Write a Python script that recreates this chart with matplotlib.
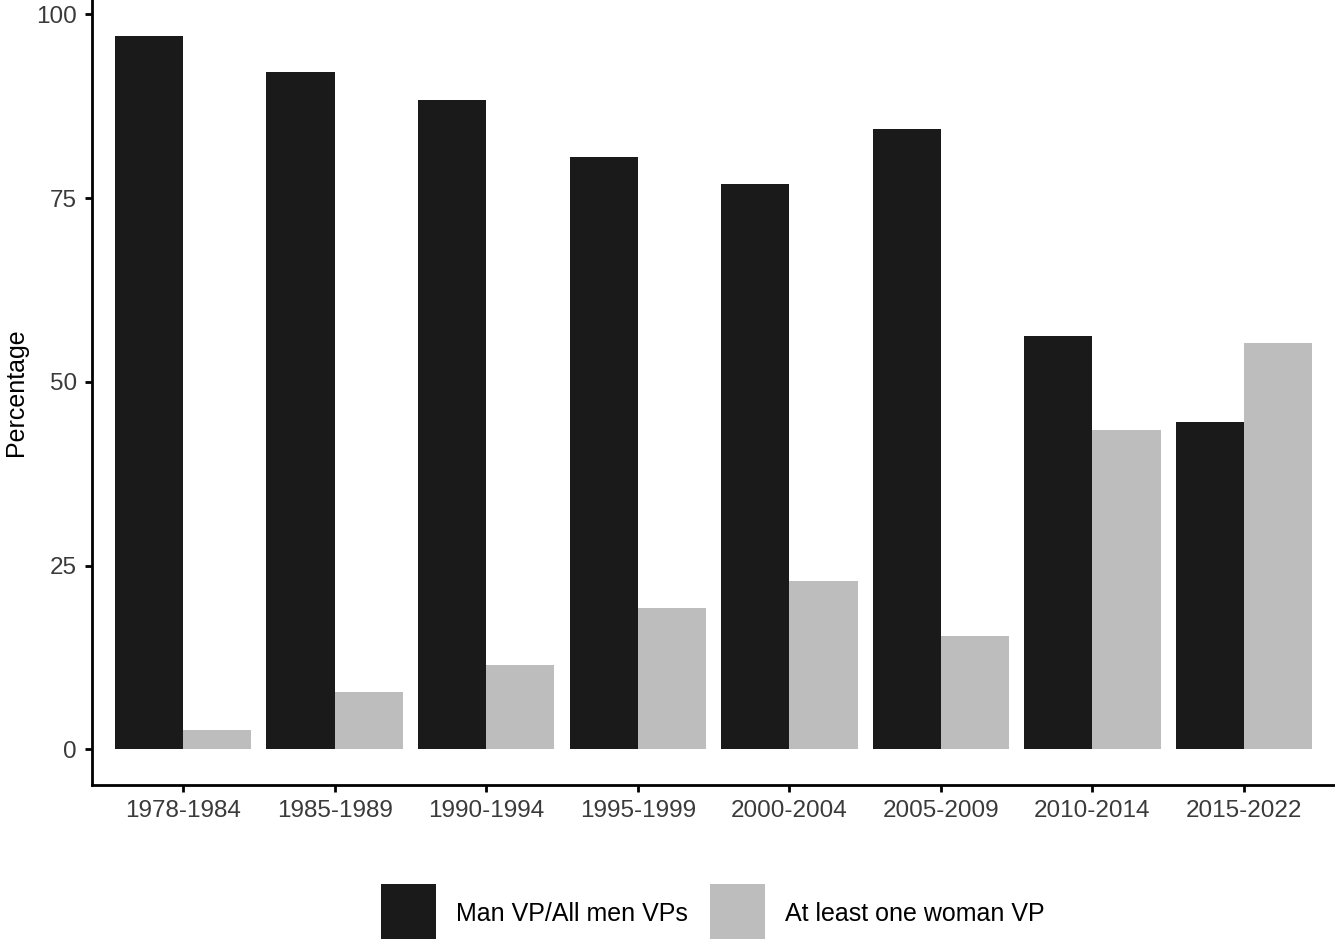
import numpy as np
import matplotlib
matplotlib.use("Agg")
import matplotlib.pyplot as plt
from matplotlib.patches import Patch

plt.rcParams['font.family'] = ['Liberation Sans', 'DejaVu Sans']

# data
periods = ["1978-1984", "1985-1989", "1990-1994", "1995-1999",
           "2000-2004", "2005-2009", "2010-2014", "2015-2022"]
men_vp = [97.1, 92.1, 88.4, 80.6, 76.9, 84.4, 56.3, 44.6]
woman_vp = [2.6, 7.8, 11.5, 19.2, 22.9, 15.4, 43.5, 55.3]
series_names = ["Man VP/All men VPs", "At least one woman VP"]
colors = ["#1a1a1a", "#bdbdbd"]

fig = plt.figure(figsize=(13.35, 9.39), dpi=100)
ax = fig.add_axes([0.069, 0.164, 0.931, 0.836])

x = np.arange(len(periods))
w = 0.45
ax.bar(x - w / 2, men_vp, width=w, color=colors[0], linewidth=0)
ax.bar(x + w / 2, woman_vp, width=w, color=colors[1], linewidth=0)

ax.set_xlim(-0.6, len(periods) - 0.4)
top = max(max(men_vp), max(woman_vp))
ax.set_ylim(-0.05 * top, top * 1.05)
ax.set_yticks([0, 25, 50, 75, 100])
ax.set_xticks(x)
ax.set_xticklabels(periods)

for s in ["top", "right"]:
    ax.spines[s].set_visible(False)
for s in ["left", "bottom"]:
    ax.spines[s].set_linewidth(2.0)
ax.tick_params(axis="both", length=5, width=2.0, labelsize=17.5,
               labelcolor="#3a3a3a", pad=6)
ax.set_ylabel("Percentage", fontsize=18, labelpad=6)

# legend keys are cut by the bottom edge in the original
handles = [Patch(facecolor=c, edgecolor="none") for c in colors]
fig.legend(handles, series_names, ncol=2, loc="lower center",
           bbox_to_anchor=(0.534, -0.017), frameon=False, fontsize=18,
           handlelength=2.2, handleheight=3.2, handletextpad=0.8,
           columnspacing=0.9, borderpad=0.0)

fig.savefig("out.png", dpi=100)
